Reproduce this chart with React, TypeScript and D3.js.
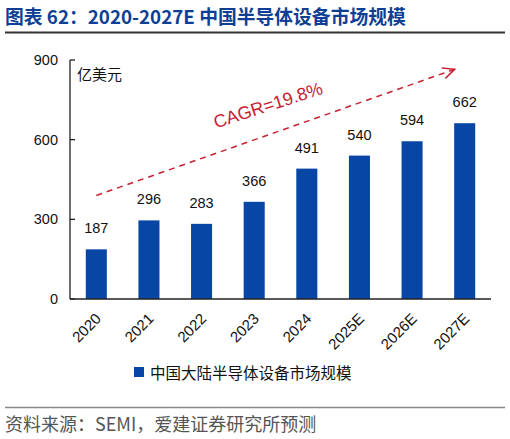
import React from 'react';
import * as d3 from 'd3';

const years = ['2020', '2021', '2022', '2023', '2024', '2025E', '2026E', '2027E'];
const marketSize = [187, 296, 283, 366, 491, 540, 594, 662];
const yTicks = [0, 300, 600, 900];

const titleText = '图表 62：2020-2027E 中国半导体设备市场规模';
const unitText = '亿美元';
const legendText = '中国大陆半导体设备市场规模';
const sourceText = '资料来源：SEMI，爱建证券研究所预测';
const cagrText = 'CAGR=19.8%';

const W = 510;
const H = 439;
const margin = { top: 60, bottom: 140, left: 70, right: 19 };
const barColor = '#0846a6';
const red = '#c8202f';
const latin = '"Liberation Sans", Arial, sans-serif';
const cjk = '"Noto Sans CJK SC", "Liberation Sans", sans-serif';

const App: React.FC = () => {
  const x = d3
    .scaleBand<string>()
    .domain(years)
    .range([margin.left, W - margin.right])
    .paddingInner(0.6)
    .paddingOuter(0.3);

  const y = d3
    .scaleLinear()
    .domain([0, 900])
    .range([H - margin.bottom, margin.top]);

  const x0 = margin.left;
  const y0 = y(0);

  // arrow from above the first bar to upper right
  const ax1 = (x('2020') || 0) + x.bandwidth() / 2;
  const ay1 = y(390);
  const ax2 = (x('2027E') || 0) + x.bandwidth() / 2 - 10;
  const ay2 = y(865);
  const ang = Math.atan2(ay2 - ay1, ax2 - ax1);
  const headLen = 13;
  const headA = (25 * Math.PI) / 180;
  const head = [
    [ax2 - headLen * Math.cos(ang - headA), ay2 - headLen * Math.sin(ang - headA)],
    [ax2, ay2],
    [ax2 - headLen * Math.cos(ang + headA), ay2 - headLen * Math.sin(ang + headA)],
  ];

  return (
    <svg width={W} height={H} style={{ position: 'absolute', left: 0, top: 0, background: '#fff' }}>
      <text x={5} y={24} fill="#0e3f95" fontFamily={cjk} fontWeight="bold" fontSize={18.8}>
        {titleText}
      </text>
      <line x1={5} x2={505} y1={32.5} y2={32.5} stroke="#333" strokeWidth={2} />

      {/* y axis */}
      <line x1={x0} x2={x0} y1={y(900)} y2={y0} stroke="#222" strokeWidth={1.3} />
      {yTicks.map((t) => (
        <g key={t}>
          <line x1={x0} x2={x0 + 5} y1={y(t)} y2={y(t)} stroke="#222" strokeWidth={1.3} />
          <text
            x={x0 - 12}
            y={y(t)}
            dy="0.35em"
            textAnchor="end"
            fontFamily={latin}
            fontSize={14.5}
            fill="#111"
          >
            {t}
          </text>
        </g>
      ))}
      <text x={x0 + 7} y={80} fontFamily={cjk} fontSize={15} fill="#111">
        {unitText}
      </text>

      {/* bars */}
      {years.map((yr, i) => {
        const bx = x(yr) || 0;
        const cx = bx + x.bandwidth() / 2;
        return (
          <g key={yr}>
            <rect x={bx} y={y(marketSize[i])} width={x.bandwidth()} height={y0 - y(marketSize[i])} fill={barColor} />
            <text
              x={cx}
              y={y(marketSize[i]) - 16}
              textAnchor="middle"
              fontFamily={latin}
              fontSize={14.5}
              fill="#111"
            >
              {marketSize[i]}
            </text>
            <text
              transform={`translate(${cx + 2},${y0 + 17}) rotate(-45)`}
              textAnchor="end"
              dy="0.35em"
              fontFamily={latin}
              fontSize={15}
              fill="#111"
            >
              {yr}
            </text>
          </g>
        );
      })}

      {/* x axis */}
      <line x1={x0} x2={W - margin.right} y1={y0} y2={y0} stroke="#222" strokeWidth={1.3} />

      {/* CAGR annotation */}
      <line x1={ax1} y1={ay1} x2={ax2} y2={ay2} stroke={red} strokeWidth={1.5} strokeDasharray="6,5" />
      <polyline points={head.map((p) => p.join(',')).join(' ')} fill="none" stroke={red} strokeWidth={1.5} />
      <text
        transform={`translate(270,111) rotate(-18)`}
        textAnchor="middle"
        fontFamily={latin}
        fontSize={18}
        fill={red}
      >
        {cagrText}
      </text>

      {/* legend */}
      <rect x={134} y={367} width={10} height={10} fill={barColor} />
      <text x={150} y={378.5} fontFamily={cjk} fontSize={15.5} fill="#111">
        {legendText}
      </text>

      <line x1={5} x2={505} y1={407.5} y2={407.5} stroke="#888" strokeWidth={1.5} />
      <text x={5} y={431} fontFamily={cjk} fontSize={18} fill="#555">
        {sourceText}
      </text>
    </svg>
  );
};

export default App;
